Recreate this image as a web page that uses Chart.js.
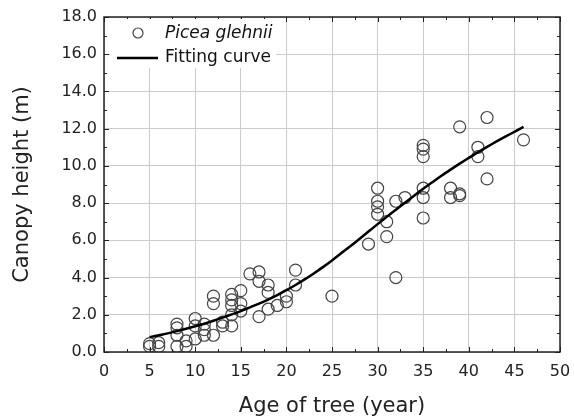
<!DOCTYPE html>
<html>
<head>
<meta charset="utf-8">
<script src="https://cdn.jsdelivr.net/npm/chart.js@4.4.1/dist/chart.umd.min.js"></script>
<style>
  html, body { margin: 0; padding: 0; background: #ffffff; }
  #wrap { width: 574px; height: 419px; }
</style>
</head>
<body>
<div id="wrap"><canvas id="chart-height" width="574" height="419"></canvas></div>
<script>
// observed trees: age (year) and canopy height (m)
const treeAge = [5, 5, 6, 6, 8, 8, 8, 8, 9, 9, 10, 10, 10, 11, 11, 11, 12, 12, 12, 13, 13,
  14, 14, 14, 14, 14, 15, 15, 15, 16, 17, 17, 17, 18, 18, 18, 19, 20, 20, 21, 21, 25,
  29, 30, 30, 30, 30, 31, 31, 32, 32, 33, 35, 35, 35, 35, 35, 35, 38, 38, 39, 39, 39,
  41, 41, 42, 42, 46];
const treeHeight = [0.3, 0.45, 0.3, 0.5, 1.5, 1.3, 0.9, 0.3, 0.6, 0.3, 1.8, 1.4, 0.7, 1.5, 0.9, 1.2, 3.0, 2.6, 0.9, 1.4, 1.6,
  3.1, 2.8, 2.5, 1.4, 2.0, 3.3, 2.6, 2.2, 4.2, 4.3, 3.8, 1.9, 3.6, 3.2, 2.3, 2.5, 2.7, 3.0, 4.4, 3.6, 3.0,
  5.8, 8.8, 8.1, 7.8, 7.4, 7.0, 6.2, 8.1, 4.0, 8.3, 11.1, 10.9, 10.5, 8.8, 8.3, 7.2, 8.8, 8.3, 12.1, 8.5, 8.4,
  11.0, 10.5, 12.6, 9.3, 11.4];

// fitting curve
const curveAge = [5, 6, 7, 8, 9, 10, 11, 12, 13, 14, 15, 16, 17, 18, 19, 20, 21, 22, 23, 24, 25,
  26, 27, 28, 29, 30, 31, 32, 33, 34, 35, 36, 37, 38, 39, 40, 41, 42, 43, 44, 45, 46];
const curveHeight = [0.8, 0.9, 1.0, 1.12, 1.25, 1.38, 1.52, 1.68, 1.85, 2.02, 2.2, 2.4, 2.6, 2.82, 3.06, 3.32, 3.6, 3.9, 4.22, 4.56, 4.92,
  5.3, 5.68, 6.07, 6.47, 6.87, 7.26, 7.64, 8.02, 8.4, 8.77, 9.12, 9.47, 9.8, 10.12, 10.43, 10.73, 11.02, 11.3, 11.57, 11.83, 12.1];

const seriesNames = ['Picea glehnii', 'Fitting curve'];
const axisTitles = ['Age of tree (year)', 'Canopy height (m)'];

const FONT = "'DejaVu Sans', sans-serif";

// frame, inward ticks and the boxed legend
const framePlugin = {
    id: 'frame',
    afterDraw(chart) {
        const ctx = chart.ctx;
        const a = chart.chartArea;
        const xs = chart.scales.x;
        const ys = chart.scales.y;
        ctx.save();
        ctx.strokeStyle = '#222';
        ctx.lineWidth = 1;
        // x ticks, top and bottom
        for (let v = 0; v <= 50; v += 2.5) {
            const px = Math.round(xs.getPixelForValue(v)) + 0.5;
            const len = (v % 5 === 0) ? 5 : 3;
            ctx.beginPath();
            ctx.moveTo(px, a.bottom); ctx.lineTo(px, a.bottom - len);
            ctx.moveTo(px, a.top); ctx.lineTo(px, a.top + len);
            ctx.stroke();
        }
        // y ticks, left and right
        for (let v = 0; v <= 18; v += 1) {
            const py = Math.round(ys.getPixelForValue(v)) + 0.5;
            const len = (v % 2 === 0) ? 5 : 3;
            ctx.beginPath();
            ctx.moveTo(a.left, py); ctx.lineTo(a.left + len, py);
            ctx.moveTo(a.right, py); ctx.lineTo(a.right - len, py);
            ctx.stroke();
        }
        ctx.lineWidth = 1.5;
        ctx.strokeStyle = '#222';
        ctx.strokeRect(a.left, a.top, a.right - a.left, a.bottom - a.top);

        // legend box
        const ds = chart.data.datasets;
        ctx.fillStyle = '#ffffff';
        ctx.fillRect(a.left + 6, a.top + 2, 166, 49);
        ctx.strokeStyle = '#444';
        ctx.lineWidth = 1.2;
        ctx.beginPath();
        ctx.arc(a.left + 34, a.top + 16, 5, 0, Math.PI * 2);
        ctx.stroke();
        ctx.strokeStyle = '#000';
        ctx.lineWidth = 2.5;
        ctx.beginPath();
        ctx.moveTo(a.left + 13, a.top + 41);
        ctx.lineTo(a.left + 54, a.top + 41);
        ctx.stroke();
        ctx.fillStyle = '#111';
        ctx.textBaseline = 'middle';
        ctx.textAlign = 'left';
        ctx.font = 'italic 17px ' + FONT;
        ctx.fillText(ds[0].label, a.left + 61, a.top + 17);
        ctx.font = '17px ' + FONT;
        ctx.fillText(ds[1].label, a.left + 61, a.top + 41);
        ctx.restore();
    }
};

const ctxHeight = document.getElementById('chart-height').getContext('2d');
const chart_height = new Chart(ctxHeight, {
    type: 'scatter',
    data: {
        datasets: [{
            label: seriesNames[0],
            data: treeAge.map((x, i) => ({ x: x, y: treeHeight[i] })),
            pointStyle: 'circle',
            pointRadius: 6,
            pointBorderWidth: 1.2,
            borderColor: '#444',
            backgroundColor: 'rgba(0,0,0,0)',
            order: 2
        }, {
            label: seriesNames[1],
            data: curveAge.map((x, i) => ({ x: x, y: curveHeight[i] })),
            showLine: true,
            pointRadius: 0,
            borderColor: '#000',
            borderWidth: 2.5,
            tension: 0.3,
            fill: false,
            order: 1
        }]
    },
    options: {
        responsive: false,
        animation: false,
        layout: { padding: { left: 0, right: 14, top: 17, bottom: 0 } },
        plugins: {
            legend: { display: false },
            tooltip: { enabled: false }
        },
        scales: {
            x: {
                type: 'linear',
                min: 0,
                max: 50,
                afterFit(scale) { scale.height = 67; scale.paddingRight = 0; scale.paddingLeft = 0; },
                ticks: {
                    stepSize: 5,
                    padding: 10,
                    color: '#222',
                    font: { family: FONT, size: 16 }
                },
                grid: { color: '#cccccc', lineWidth: 1, drawTicks: false },
                border: { display: false },
                title: {
                    display: true,
                    text: axisTitles[0],
                    color: '#222',
                    font: { family: FONT, size: 21 },
                    padding: { top: 0, bottom: 0 }
                }
            },
            y: {
                min: 0,
                max: 18,
                afterFit(scale) { scale.width = 104; scale.paddingTop = 0; scale.paddingBottom = 0; },
                ticks: {
                    stepSize: 2,
                    padding: 7,
                    color: '#222',
                    font: { family: FONT, size: 16 },
                    callback: v => v.toFixed(1)
                },
                grid: { color: '#cccccc', lineWidth: 1, drawTicks: false },
                border: { display: false },
                title: {
                    display: true,
                    text: axisTitles[1],
                    color: '#222',
                    font: { family: FONT, size: 21 },
                    padding: { top: 10, bottom: 0 }
                }
            }
        }
    },
    plugins: [framePlugin]
});
</script>
</body>
</html>
